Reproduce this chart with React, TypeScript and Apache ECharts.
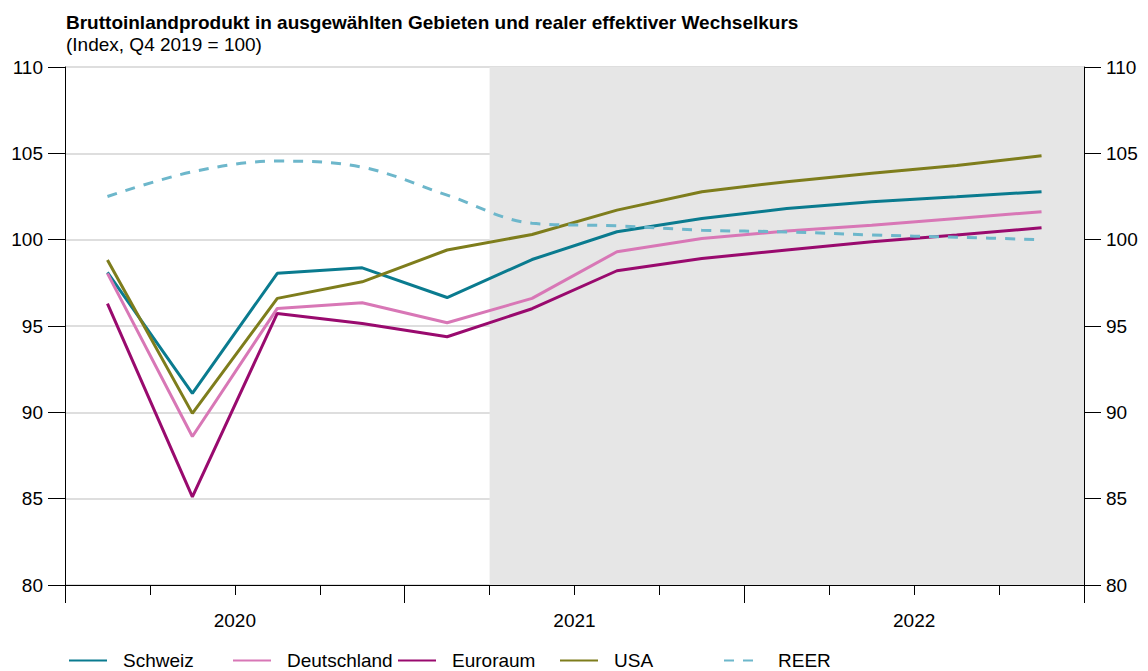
import React, { useEffect, useRef } from "react";
import * as echarts from "echarts";

const quarters = [
  "Q1 2020", "Q2 2020", "Q3 2020", "Q4 2020",
  "Q1 2021", "Q2 2021", "Q3 2021", "Q4 2021",
  "Q1 2022", "Q2 2022", "Q3 2022", "Q4 2022",
];
const years = ["2020", "2021", "2022"];
const yTicks = { min: 80, max: 110, interval: 5 };

const schweiz = [98.1, 91.1, 98.05, 98.37, 96.65, 98.85, 100.46, 101.23, 101.8, 102.2, 102.48, 102.78];
const deutschland = [98.05, 88.6, 96.02, 96.35, 95.19, 96.6, 99.3, 100.07, 100.5, 100.84, 101.23, 101.62];
const euroraum = [96.3, 85.1, 95.73, 95.15, 94.38, 96.0, 98.2, 98.91, 99.4, 99.88, 100.27, 100.69];
const usa = [98.82, 89.94, 96.6, 97.56, 99.4, 100.3, 101.71, 102.78, 103.36, 103.84, 104.3, 104.86];
const reer = [102.5, 103.93, 104.55, 104.2, 102.58, 100.95, 100.8, 100.55, 100.45, 100.27, 100.14, 100.0];

// forecast shading: from start of Q2 2021 (index 5) to end of range (12 quarters)
const shadeRange = [5, 12];

const seriesDefs = [
  { name: "Schweiz", data: schweiz, color: "#0a7b8f", dashed: false },
  { name: "Deutschland", data: deutschland, color: "#d877b6", dashed: false },
  { name: "Euroraum", data: euroraum, color: "#990a6e", dashed: false },
  { name: "USA", data: usa, color: "#7e7d1c", dashed: false },
  { name: "REER", data: reer, color: "#6db7cb", dashed: true },
];
const legendLefts = [68, 232, 397, 559, 723];

const FONT = "'Liberation Sans', Arial, sans-serif";

export default function App() {
  const ref = useRef<HTMLDivElement>(null);
  useEffect(() => {
    if (!ref.current) return;
    const chart = echarts.init(ref.current, null, { renderer: "svg" });
    const yAxisCommon = {
      type: "value",
      min: yTicks.min,
      max: yTicks.max,
      interval: yTicks.interval,
      axisLine: { show: true, lineStyle: { color: "#000", width: 1 } },
      axisTick: { show: true, length: 17, lineStyle: { color: "#000", width: 1 } },
      axisLabel: { color: "#000", fontSize: 19, fontFamily: FONT, margin: 22 },
    };
    chart.setOption({
      animation: false,
      backgroundColor: "#fff",
      textStyle: { fontFamily: FONT },
      title: {
        text: "Bruttoinlandprodukt in ausgewählten Gebieten und realer effektiver Wechselkurs",
        subtext: "(Index, Q4 2019 = 100)",
        left: 61,
        top: 8,
        itemGap: 3,
        textStyle: { fontSize: 19, fontWeight: "bold", color: "#000", fontFamily: FONT },
        subtextStyle: { fontSize: 19, color: "#000", fontFamily: FONT },
      },
      grid: { left: 65, right: 64, top: 67, bottom: 86, containLabel: false },
      legend: seriesDefs.map((s, i) => ({
        data: [s.name],
        left: legendLefts[i],
        top: 651,
        padding: 0,
        itemWidth: 38,
        itemHeight: 14,
        itemStyle: { opacity: 0 },
        textStyle: { fontSize: 19, color: "#000", fontFamily: FONT, padding: [0, 0, 0, 11] },
        selectedMode: false,
      })),
      xAxis: [
        {
          type: "category",
          data: quarters,
          boundaryGap: true,
          axisLine: { show: true, lineStyle: { color: "#000" } },
          axisTick: { show: true, interval: 0, length: 10, lineStyle: { color: "#000" } },
          axisLabel: { show: false },
          splitLine: { show: false },
        },
        {
          type: "category",
          data: years,
          boundaryGap: true,
          position: "bottom",
          axisLine: { show: true, lineStyle: { color: "#000" } },
          axisTick: { show: true, interval: 0, length: 18, lineStyle: { color: "#000" } },
          axisLabel: { color: "#000", fontSize: 19, fontFamily: FONT, margin: 26 },
          splitLine: { show: false },
        },
        {
          type: "value",
          min: 0,
          max: quarters.length,
          show: false,
        },
      ],
      yAxis: [
        {
          ...yAxisCommon,
          position: "left",
          splitLine: { show: true, lineStyle: { color: "#d3d3d3", width: 1.5 } },
        },
        {
          ...yAxisCommon,
          position: "right",
          splitLine: { show: false },
        },
      ],
      series: [
        {
          type: "line",
          name: "__shade",
          xAxisIndex: 2,
          yAxisIndex: 0,
          data: [[0, null]],
          symbol: "none",
          silent: true,
          z: 0,
          markArea: {
            silent: true,
            itemStyle: { color: "#e6e6e6" },
            data: [[{ xAxis: shadeRange[0] }, { xAxis: shadeRange[1] }]],
          },
        },
        ...seriesDefs.map((s) => ({
          type: "line",
          name: s.name,
          data: s.data,
          xAxisIndex: 0,
          yAxisIndex: 0,
          symbol: "none",
          smooth: s.dashed ? 0.35 : false,
          z: 3,
          itemStyle: { color: s.color },
          lineStyle: {
            color: s.color,
            width: 3,
            type: s.dashed ? [10, 9] : "solid",
          },
        })),
      ],
    });
    return () => chart.dispose();
  }, []);
  return <div ref={ref} style={{ width: 1148, height: 671, position: "absolute", left: 0, top: 0 }} />;
}
